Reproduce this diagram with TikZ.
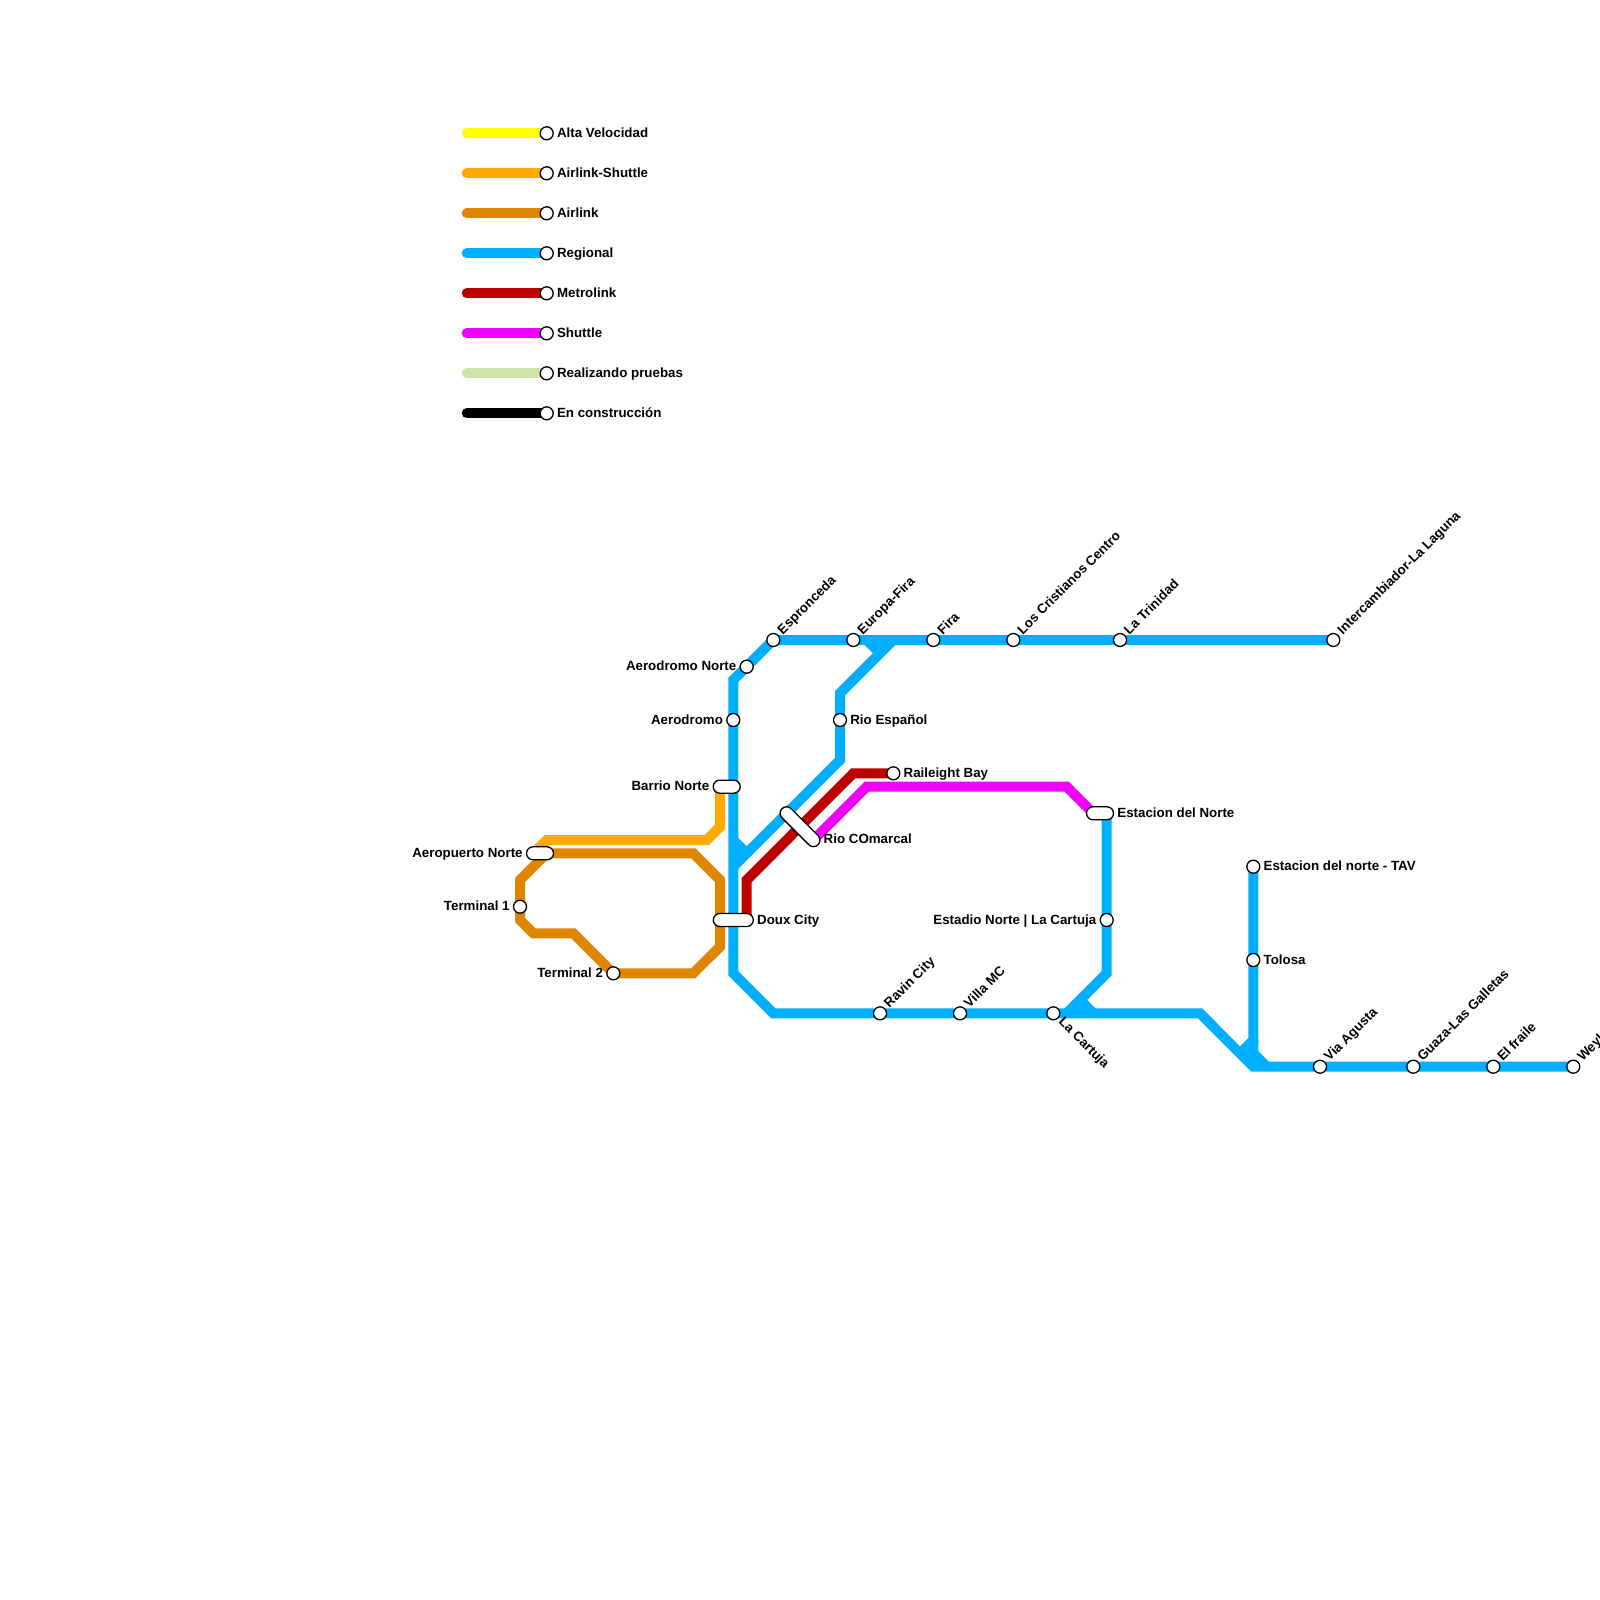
\documentclass[tikz,border=0pt]{standalone}
\usepackage{fontspec}
\setmainfont{Liberation Sans}
\usetikzlibrary{shapes.misc,backgrounds}
\definecolor{cyellow}{HTML}{FFFF00}
\definecolor{cairshut}{HTML}{FFAA00}
\definecolor{cair}{HTML}{DF8600}
\definecolor{creg}{HTML}{00AFFF}
\definecolor{cmetro}{HTML}{BD0000}
\definecolor{cshut}{HTML}{EF00FF}
\definecolor{cprueba}{HTML}{CFE4A7}
\tikzset{
  stn/.style={circle,draw=black,fill=white,line width=1.3pt,minimum size=13pt,inner sep=0pt},
  pill/.style={rounded rectangle,draw=black,fill=white,line width=1.3pt,minimum height=13pt,inner sep=0pt,rounded rectangle arc length=180},
  txt/.style={font=\bfseries\fontsize{13.33}{15}\selectfont,inner sep=0pt,text height=10.5pt,text depth=2pt,text=black},
  lblR/.style={txt,anchor=west},
  lblL/.style={txt,anchor=east},
  lblU/.style={txt,anchor=west,rotate=45},
  lblD/.style={txt,anchor=west,rotate=-45},
  track/.style={line width=10pt,miter limit=10},
  legendline/.style={line width=10pt,line cap=round},
}
\begin{document}
\begin{tikzpicture}[x=1pt,y=-1pt]
\useasboundingbox (0,0) rectangle (1600,1600);
% legend stations
\node[stn] (l1) at (546.7,133.3) {};
\node[stn] (l2) at (546.7,173.3) {};
\node[stn] (l3) at (546.7,213.3) {};
\node[stn] (l4) at (546.7,253.3) {};
\node[stn] (l5) at (546.7,293.3) {};
\node[stn] (l6) at (546.7,333.3) {};
\node[stn] (l7) at (546.7,373.3) {};
\node[stn] (l8) at (546.7,413.3) {};
\coordinate (s1) at (466.7,133.3);
\coordinate (s2) at (466.7,173.3);
\coordinate (s3) at (466.7,213.3);
\coordinate (s4) at (466.7,253.3);
\coordinate (s5) at (466.7,293.3);
\coordinate (s6) at (466.7,333.3);
\coordinate (s7) at (466.7,373.3);
\coordinate (s8) at (466.7,413.3);
\node[lblR] (t1) at ([xshift=3pt]l1.east) {Alta Velocidad};
\node[lblR] (t2) at ([xshift=3pt]l2.east) {Airlink-Shuttle};
\node[lblR] (t3) at ([xshift=3pt]l3.east) {Airlink};
\node[lblR] (t4) at ([xshift=3pt]l4.east) {Regional};
\node[lblR] (t5) at ([xshift=3pt]l5.east) {Metrolink};
\node[lblR] (t6) at ([xshift=3pt]l6.east) {Shuttle};
\node[lblR] (t7) at ([xshift=3pt]l7.east) {Realizando pruebas};
\node[lblR] (t8) at ([xshift=3pt]l8.east) {En construcción};
% stations
\node[pill,minimum width=27pt] (barrio) at (726.7,786.7) {};
\node[pill,minimum width=27pt] (aeropuerto) at (540,853.3) {};
\node[pill,minimum width=40pt] (doux) at (733.3,920) {};
\node[pill,minimum width=27pt] (estnorte) at (1100,813.3) {};
\node[pill,minimum width=51pt,rotate=-45] (comarcal) at (800,826.7) {};
\node[stn] (term1) at (520,906.7) {};
\node[stn] (term2) at (613.3,973.3) {};
\node[stn] (aeronorte) at (746.7,666.7) {};
\node[stn] (aero) at (733.3,720) {};
\node[stn] (espron) at (773.3,640) {};
\node[stn] (europa) at (853.3,640) {};
\node[stn] (fira) at (933.3,640) {};
\node[stn] (cristianos) at (1013.3,640) {};
\node[stn] (trinidad) at (1120,640) {};
\node[stn] (inter) at (1333.3,640) {};
\node[stn] (espanol) at (840,720) {};
\node[stn] (raileigh) at (893.3,773.3) {};
\node[stn] (estadio) at (1106.7,920) {};
\node[stn] (tav) at (1253.3,866.7) {};
\node[stn] (tolosa) at (1253.3,960) {};
\node[stn] (ravin) at (880,1013.3) {};
\node[stn] (villa) at (960,1013.3) {};
\node[stn] (cartuja) at (1053.3,1013.3) {};
\node[stn] (via) at (1320,1066.7) {};
\node[stn] (guaza) at (1413.3,1066.7) {};
\node[stn] (fraile) at (1493.3,1066.7) {};
\node[stn] (weyl) at (1573.3,1066.7) {};
% labels
\node[lblL] at ([xshift=-3pt]barrio.west) {Barrio Norte};
\node[lblL] at ([xshift=-3pt]aeropuerto.west) {Aeropuerto Norte};
\node[lblR] at ([xshift=3pt]doux.east) {Doux City};
\node[lblR] at ([xshift=3pt]estnorte.east) {Estacion del Norte};
\node[lblR] at (823.5,839.5) {Rio COmarcal};
\node[lblL] at ([xshift=-3pt]term1.west) {Terminal 1};
\node[lblL] at ([xshift=-3pt]term2.west) {Terminal 2};
\node[lblL] at ([xshift=-3pt]aeronorte.west) {Aerodromo Norte};
\node[lblL] at ([xshift=-3pt]aero.west) {Aerodromo};
\node[lblR] at ([xshift=3pt]espanol.east) {Rio Español};
\node[lblR] at ([xshift=3pt]raileigh.east) {Raileight Bay};
\node[lblL] at ([xshift=-3pt]estadio.west) {Estadio Norte | La Cartuja};
\node[lblR] at ([xshift=3pt]tav.east) {Estacion del norte - TAV};
\node[lblR] at ([xshift=3pt]tolosa.east) {Tolosa};
\foreach \n/\t in {espron/Espronceda,europa/Europa-Fira,fira/Fira,cristianos/Los Cristianos Centro,trinidad/La Trinidad,inter/Intercambiador-La Laguna,ravin/Ravin City,villa/Villa MC,via/Via Agusta,guaza/Guaza-Las Galletas,fraile/El fraile,weyl/Weyl}
  \node[lblU] at ([shift={(6.3,-7.7)}]\n.center) {\t};
\node[lblD] at ([shift={(7.7,6.3)}]cartuja.center) {La Cartuja};
% way points
\coordinate (rA) at (733.3,680);
\coordinate (rB) at (733.3,973.3);
\coordinate (rC) at (773.3,1013.3);
\coordinate (rD) at (1200,1013.3);
\coordinate (rE) at (1253.3,1066.7);
\coordinate (bA) at (893.3,640);
\coordinate (bB) at (840,693.3);
\coordinate (bC) at (840,760);
\coordinate (bD) at (733.3,866.7);
\coordinate (sA) at (733.3,840);
\coordinate (sB) at (746.7,853.3);
\coordinate (sC) at (866.7,640);
\coordinate (sD) at (880,653.3);
\coordinate (nA) at (1106.7,973.3);
\coordinate (nB) at (1066.7,1013.3);
\coordinate (nC) at (1080,1000);
\coordinate (nD) at (1093.3,1013.3);
\coordinate (tA) at (1253.3,1040);
\coordinate (tB) at (1240,1053.3);
\coordinate (tC) at (1253.3,1053.3);
\coordinate (tD) at (1266.7,1066.7);
\coordinate (asA) at (720,826.7);
\coordinate (asB) at (706.7,840);
\coordinate (asC) at (546.7,840);
\coordinate (asD) at (533.3,853.3);
\coordinate (aA) at (693.3,973.3);
\coordinate (aB) at (720,946.7);
\coordinate (aC) at (720,880);
\coordinate (aD) at (693.3,853.3);
\coordinate (aE) at (546.7,853.3);
\coordinate (aF) at (520,880);
\coordinate (aG) at (520,920);
\coordinate (aH) at (533.3,933.3);
\coordinate (aI) at (573.3,933.3);
\coordinate (mA) at (853.3,773.3);
\coordinate (mB) at (746.7,880);
\coordinate (mC) at (746.7,920);
\coordinate (shS) at (813.3,840);
\coordinate (shA) at (866.7,786.7);
\coordinate (shB) at (1066.7,786.7);
\begin{scope}[on background layer]
\draw[legendline,cyellow] (s1) -- (l1.center);
\draw[legendline,cairshut] (s2) -- (l2.center);
\draw[legendline,cair] (s3) -- (l3.center);
\draw[legendline,creg] (s4) -- (l4.center);
\draw[legendline,cmetro] (s5) -- (l5.center);
\draw[legendline,cshut] (s6) -- (l6.center);
\draw[legendline,cprueba] (s7) -- (l7.center);
\draw[legendline,black] (s8) -- (l8.center);
\draw[track,cairshut] (barrio.center -| asA) -- (asA) -- (asB) -- (asC) -- (asD);
\draw[track,cair] (term2.center) -- (aA) -- (aB) -- (aC) -- (aD) -- (aE) -- (aF) -- (aG) -- (aH) -- (aI) -- (term2.center);
\draw[track,creg] (inter.center) -- (espron.center) -- (rA) -- (rB) -- (rC) -- (rD) -- (rE) -- (weyl.center);
\draw[track,creg] (bA) -- (bB) -- (bC) -- (bD);
\draw[track,creg] (sA) -- (sB);
\draw[track,creg] (sC) -- (sD);
\draw[track,creg] (estnorte.center -| nA) -- (nA) -- (nB);
\draw[track,creg] (nC) -- (nD);
\draw[track,creg] (tav.center) -- (tA) -- (tB);
\draw[track,creg] (tA) -- (tC) -- (tD);
\fill[creg] (sA) -- (sB) -- (bD) -- cycle;
\fill[creg] (sC) -- (sD) -- (bA) -- cycle;
\fill[creg] (nC) -- (nD) -- (nB) -- cycle;
\fill[creg] (tB) -- (tA) -- (tC) -- (tD) -- (rE) -- cycle;
\draw[track,cshut] (shS) -- (shA) -- (shB) -- (estnorte.center -| nD);
\draw[track,cmetro] (raileigh.center) -- (mA) -- (mB) -- (mC);
\end{scope}
\end{tikzpicture}
\end{document}
